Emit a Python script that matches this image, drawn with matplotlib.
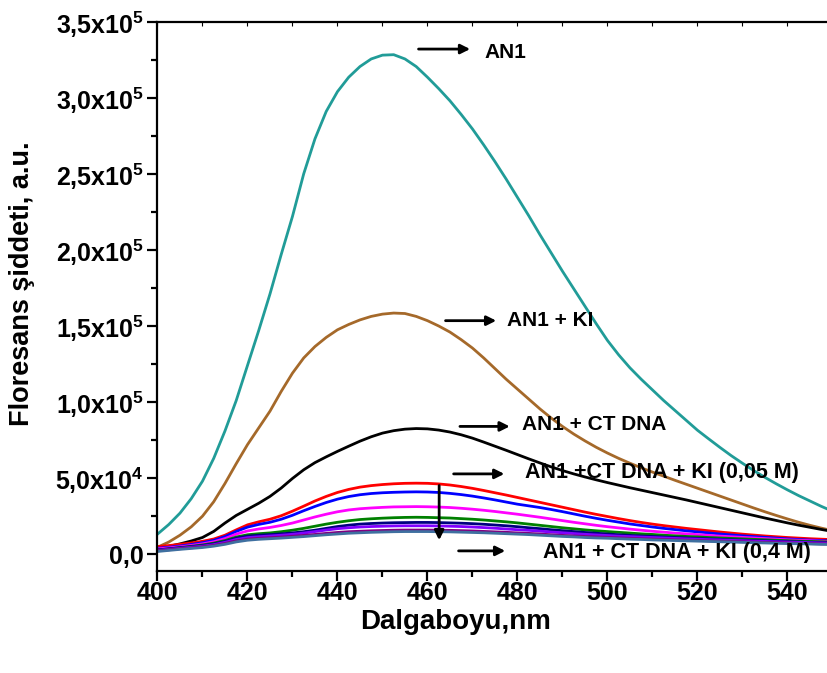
import matplotlib
matplotlib.use('Agg')
import matplotlib.pyplot as plt
import numpy as np

plt.rcParams['font.family'] = ['Liberation Sans', 'DejaVu Sans']
plt.rcParams['font.weight'] = 'bold'
plt.rcParams['mathtext.fontset'] = 'custom'
plt.rcParams['mathtext.rm'] = 'Liberation Sans:bold'
plt.rcParams['mathtext.bf'] = 'Liberation Sans:bold'
plt.rcParams['mathtext.default'] = 'regular'

# wavelength grid (nm), 400 .. 550 every 2.5 nm
wl = np.linspace(400, 550, 61)

# emission spectra (a.u.)
an1 = [13200, 19500, 27000, 36500, 48000, 63000, 81000, 101000, 124000, 147000,
       171000, 197000, 222000, 250000, 273000, 291000, 304000, 313500, 320500, 325500,
       328000, 328300, 325500, 320500, 313500, 306000, 298000, 289000, 279500, 269000,
       258000, 246500, 234500, 222500, 210000, 198000, 186000, 174500, 163000, 151500,
       140500, 131000, 122500, 115000, 108000, 101000, 94500, 88000, 81500, 75800,
       70200, 64800, 59800, 55000, 50500, 46300, 42300, 38500, 35000, 31500,
       28300]
an1_ki = [4600, 8000, 12500, 18000, 25000, 34500, 46500, 59500, 72000, 83000,
          94000, 107000, 119000, 129000, 136500, 142500, 147500, 151000, 154000, 156300,
          157800, 158500, 158200, 156300, 153500, 150000, 146000, 141000, 135500, 129000,
          122000, 115000, 108500, 102000, 95500, 89500, 84000, 79000, 74500, 70300,
          66500, 63000, 59800, 56800, 54000, 51300, 48600, 46000, 43400, 40800,
          38200, 35600, 33000, 30400, 27900, 25500, 23200, 21000, 19000, 17200,
          15500]
an1_dna = [3900, 5200, 6800, 8700, 11000, 15000, 20500, 25500, 29500, 33500,
           38000, 43500, 49800, 55500, 60200, 64000, 67600, 71000, 74300, 77200,
           79600, 81200, 82200, 82600, 82400, 81600, 80300, 78500, 76300, 73700,
           71000, 68300, 65500, 62700, 60000, 57400, 55000, 52800, 50800, 48900,
           47100, 45400, 43700, 42100, 40500, 38900, 37300, 35700, 34000, 32300,
           30600, 28900, 27200, 25500, 23800, 22200, 20600, 19100, 17700, 16300,
           15000]
ki_1 = [5000, 5700, 6500, 7400, 8500, 10000, 12500, 16000, 19300, 21300,
        23000, 25300, 28300, 31600, 35000, 38000, 40600, 42600, 44100, 45100,
        45800, 46300, 46600, 46700, 46600, 46200, 45500, 44500, 43300, 41900,
        40400, 38900, 37300, 35700, 34100, 32500, 30900, 29300, 27700, 26200,
        24800, 23400, 22100, 20900, 19800, 18800, 17900, 17000, 16200, 15400,
        14600, 13900, 13200, 12600, 12000, 11500, 11000, 10600, 10200, 9900,
        9600]
ki_2 = [3900, 4600, 5400, 6400, 7600, 9100, 11600, 15000, 17800, 19600,
        21000, 23000, 25600, 28600, 31400, 34000, 36200, 37900, 39100, 39900,
        40400, 40700, 40900, 41000, 40900, 40600, 40000, 39200, 38200, 37000,
        35700, 34300, 32900, 31800, 30700, 29400, 28000, 26500, 25000, 23600,
        22300, 21100, 19900, 18900, 17900, 17000, 16200, 15400, 14700, 14000,
        13300, 12700, 12100, 11600, 11100, 10600, 10100, 9700, 9300, 9000,
        8700]
ki_3 = [3500, 4200, 4900, 5800, 6800, 8200, 10300, 13200, 15300, 16600,
        17600, 18900, 20500, 22500, 24500, 26300, 27900, 29100, 29900, 30400,
        30800, 31100, 31200, 31300, 31200, 31000, 30700, 30200, 29600, 28900,
        28100, 27200, 26300, 25300, 24300, 23200, 22100, 21000, 20000, 19000,
        18100, 17300, 16500, 15800, 15100, 14500, 13900, 13400, 12900, 12400,
        11900, 11500, 11100, 10700, 10300, 9900, 9500, 9200, 8900, 8600,
        8300]
ki_4 = [2800, 3600, 4400, 5200, 6100, 7300, 9000, 11300, 12800, 13500,
        14000, 14800, 15800, 17000, 18400, 19800, 21000, 22000, 22800, 23300,
        23700, 24000, 24200, 24300, 24200, 24000, 23800, 23400, 23000, 22500,
        21900, 21300, 20600, 19800, 19000, 18200, 17400, 16700, 16000, 15400,
        14900, 14400, 13900, 13400, 13000, 12500, 12100, 11700, 11400, 11000,
        10700, 10400, 10100, 9800, 9500, 9200, 8900, 8600, 8400, 8200,
        8000]
ki_5 = [2800, 3500, 4200, 4900, 5700, 6800, 8400, 10600, 11900, 12500,
        12900, 13400, 14000, 14800, 15800, 17000, 18200, 19100, 19800, 20200,
        20500, 20700, 20800, 20900, 20900, 20800, 20600, 20400, 20100, 19700,
        19200, 18700, 18100, 17400, 16800, 16100, 15500, 14900, 14300, 13800,
        13300, 12800, 12400, 12000, 11700, 11300, 11000, 10700, 10400, 10100,
        9800, 9500, 9300, 9000, 8800, 8500, 8300, 8100, 7900, 7700,
        7500]
ki_6 = [2500, 3200, 3900, 4600, 5300, 6300, 7800, 9700, 10900, 11500,
        12000, 12500, 13100, 13900, 14900, 15900, 16800, 17400, 17900, 18200,
        18400, 18600, 18700, 18700, 18700, 18600, 18400, 18200, 17900, 17500,
        17100, 16600, 16100, 15700, 15200, 14600, 14100, 13600, 13100, 12700,
        12300, 11900, 11600, 11300, 11000, 10700, 10400, 10100, 9900, 9600,
        9400, 9100, 8900, 8600, 8400, 8200, 8000, 7800, 7600, 7400,
        7200]
ki_7 = [2200, 2900, 3600, 4200, 4900, 5800, 7100, 8800, 9900, 10500,
        10900, 11300, 11800, 12400, 13000, 13700, 14300, 14800, 15100, 15400,
        15600, 15800, 15900, 15900, 15900, 15800, 15700, 15500, 15300, 15000,
        14700, 14400, 14000, 13700, 13300, 12800, 12400, 12000, 11700, 11400,
        11100, 10800, 10500, 10200, 10000, 9700, 9500, 9300, 9100, 8800,
        8600, 8400, 8200, 8000, 7800, 7600, 7400, 7200, 7000, 6800,
        6700]
ki_8 = [1800, 2500, 3200, 3800, 4400, 5300, 6500, 8100, 9200, 9800,
        10200, 10600, 11100, 11600, 12200, 12800, 13300, 13800, 14100, 14400,
        14600, 14800, 14900, 14900, 14900, 14800, 14700, 14500, 14300, 14100,
        13800, 13500, 13200, 12900, 12500, 12100, 11700, 11400, 11000, 10700,
        10500, 10200, 9900, 9700, 9400, 9200, 9000, 8800, 8600, 8400,
        8200, 8000, 7800, 7600, 7400, 7200, 7000, 6900, 6700, 6500,
        6400]

series = [an1, an1_ki, an1_dna, ki_1, ki_2, ki_3, ki_4, ki_5, ki_6, ki_7, ki_8]
colors = ['#219c98', '#a5692a', 'black', 'red', 'blue', 'magenta', 'green',
          '#000080', '#8000ff', '#800080', '#3f70a0']

yticks = [0, 5e4, 1e5, 1.5e5, 2e5, 2.5e5, 3e5, 3.5e5]
ytick_labels = ['0,0', '5,0x10$^4$', '1,0x10$^5$', '1,5x10$^5$', '2,0x10$^5$',
                '2,5x10$^5$', '3,0x10$^5$', '3,5x10$^5$']
xticks = [400, 420, 440, 460, 480, 500, 520, 540]

fig = plt.figure(figsize=(8.27, 6.73), dpi=100)
ax = fig.add_axes([0.1904, 0.1516, 0.8162, 0.8162])

for y, c in zip(series, colors):
    ax.plot(wl, y, color=c, linewidth=2)

ax.set_xlim(400, 550)
ax.set_ylim(-11000, 350000)
ax.set_xticks(xticks)
ax.set_xticks(np.arange(410, 550, 20), minor=True)
ax.set_yticks(yticks)
ax.set_yticklabels(ytick_labels)
ax.set_yticks(np.arange(2.5e4, 3.5e5, 5e4), minor=True)

for s in ['left', 'bottom', 'top', 'right']:
    ax.spines[s].set_linewidth(1.6)
ax.tick_params(which='major', direction='out', length=7, width=1.6, labelsize=18, pad=3)
ax.tick_params(which='minor', direction='out', length=4, width=1.6)
ax.tick_params(axis='x', which='both', top=True, labeltop=False)
ax.tick_params(axis='x', which='major', pad=0)
# top ticks point inward and are barely visible in the original
for t in ax.xaxis.get_major_ticks() + ax.xaxis.get_minor_ticks():
    t.tick2line.set_marker(3)
    t.tick2line.set_markersize(3)
    t.tick2line.set_markeredgewidth(0.8)

ax.set_xlabel('Dalgaboyu,nm', fontsize=20, fontweight='bold')
ax.xaxis.set_label_coords(0.442, -0.07)
ax.set_ylabel('Floresans şiddeti, a.u.', fontsize=19.5, fontweight='bold')
ax.yaxis.label.set_va('center')
ax.yaxis.set_label_coords(-0.2, 0.523)

arrow = dict(arrowstyle='-|>', color='black', lw=2, mutation_scale=14)
ax.annotate('', xy=(470.1, 332000), xytext=(457.4, 332000), arrowprops=arrow)
ax.text(472.6, 330000, 'AN1', fontsize=15, fontweight='bold', va='center')
ax.annotate('', xy=(475.9, 153500), xytext=(463.4, 153500), arrowprops=arrow)
ax.text(477.7, 153500, 'AN1 + KI', fontsize=15, fontweight='bold', va='center')
ax.annotate('', xy=(478.9, 84000), xytext=(466.6, 84000), arrowprops=arrow)
ax.text(481.0, 85000, 'AN1 + CT DNA', fontsize=15, fontweight='bold', va='center')
ax.annotate('', xy=(477.7, 52800), xytext=(465.2, 52800), arrowprops=arrow)
ax.text(481.7, 53500, 'AN1 +CT DNA + KI (0,05 M)', fontsize=15.5, fontweight='bold', va='center')
ax.annotate('', xy=(477.9, 2200), xytext=(466.3, 2200), arrowprops=arrow)
ax.text(485.7, 1000, 'AN1 + CT DNA + KI (0,4 M)', fontsize=15.5, fontweight='bold', va='center')
ax.annotate('', xy=(462.6, 7400), xytext=(462.6, 47000), arrowprops=arrow)

fig.savefig('out.png', dpi=100)
